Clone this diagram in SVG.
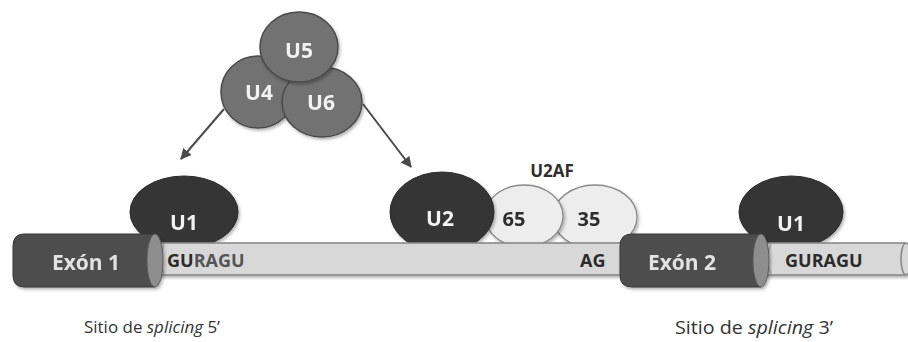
<svg xmlns="http://www.w3.org/2000/svg" width="908" height="342" viewBox="0 0 908 342">
  <defs>
    <filter id="shadow" x="-20%" y="-20%" width="140%" height="150%">
      <feDropShadow dx="1.5" dy="2" stdDeviation="1.8" flood-color="#000" flood-opacity="0.3"/>
    </filter>
    <marker id="arrow" viewBox="0 0 10 10" refX="9" refY="5" markerWidth="5.5" markerHeight="5.5" orient="auto" markerUnits="strokeWidth">
      <path d="M0,0 L10,5 L0,10 Z" fill="#4a4a4a"/>
    </marker>
    <style>
      .lbl { font-family: "Open Sans", "Liberation Sans", sans-serif; font-weight: 700; text-anchor: middle; }
      .white { fill: #f2f2f2; font-size: 21px; }
      .exon { fill: #e2e2e2; font-size: 21px; }
      .dark { fill: #2e2e2e; font-size: 20px; }
      .seq { fill: #2b2b2b; font-size: 18px; text-anchor: start; }
      .seqlight { fill: #555555; }
      .snrnp-mid { fill: #727272; stroke: #4a4a4a; stroke-width: 1.5; }
      .snrnp-dark { fill: #363636; stroke: #2a2a2a; stroke-width: 1; }
      .u2af { fill: #ededed; stroke: #8a8a8a; stroke-width: 1.3; }
      .exonbody { fill: #4d4d4d; stroke: #3a3a3a; stroke-width: 1; }
      .cap { fill: #8e8e8e; stroke: #5a5a5a; stroke-width: 1; }
      .rna { fill: #d8d8d8; stroke: #8a8a8a; stroke-width: 1.6; }
      .conn { stroke: #4a4a4a; stroke-width: 2; fill: none; marker-end: url(#arrow); }
      .site { font-family: "Open Sans", "Liberation Sans", sans-serif; fill: #333333; }
    </style>
  </defs>

  <rect width="908" height="342" fill="#ffffff"/>

  <!-- U4/U5/U6 cluster -->
  <g id="U4" filter="url(#shadow)">
    <ellipse class="snrnp-mid" cx="258" cy="92" rx="37" ry="36"/>
    <text class="lbl white" x="259" y="100">U4</text>
  </g>
  <g id="U6" filter="url(#shadow)">
    <ellipse class="snrnp-mid" cx="322" cy="102" rx="40" ry="35"/>
    <text class="lbl white" x="321" y="110">U6</text>
  </g>
  <g id="U5" filter="url(#shadow)">
    <ellipse class="snrnp-mid" cx="299" cy="47" rx="39" ry="35"/>
    <text class="lbl white" x="299" y="58">U5</text>
  </g>

  <!-- connectors -->
  <g id="connectors">
    <line class="conn" x1="224" y1="109" x2="181" y2="159"/>
    <line class="conn" x1="363" y1="104" x2="411" y2="167"/>
  </g>

  <!-- particles sitting behind the RNA strand -->
  <g id="U1-left" filter="url(#shadow)">
    <ellipse class="snrnp-dark" cx="184" cy="212" rx="54" ry="36"/>
    <text class="lbl white" x="184" y="230">U1</text>
  </g>
  <g id="U2AF35" filter="url(#shadow)">
    <ellipse class="u2af" cx="595" cy="217" rx="42" ry="32"/>
    <text class="lbl dark" x="589" y="226">35</text>
  </g>
  <g id="U2AF65" filter="url(#shadow)">
    <ellipse class="u2af" cx="524" cy="216" rx="39" ry="31"/>
    <text class="lbl dark" x="514" y="226">65</text>
  </g>
  <g id="U2" filter="url(#shadow)">
    <ellipse class="snrnp-dark" cx="442" cy="212" rx="52" ry="40"/>
    <text class="lbl white" x="440" y="226">U2</text>
  </g>
  <g id="U2AF-label">
    <text class="lbl dark" style="font-size:17px" x="552" y="177">U2AF</text>
  </g>
  <g id="U1-right" filter="url(#shadow)">
    <ellipse class="snrnp-dark" cx="791" cy="212" rx="52" ry="36"/>
    <text class="lbl white" x="791" y="231">U1</text>
  </g>

  <!-- intron / RNA strand -->
  <g id="intron" filter="url(#shadow)">
    <rect class="rna" x="158" y="243" width="747" height="32"/>
    <ellipse class="rna" cx="906" cy="259" rx="5" ry="16"/>
    <path d="M164,244 Q158,259 164,274" fill="none" stroke="#b0b0b0" stroke-width="1.5"/>
    <path d="M771,244 Q765,259 771,274" fill="none" stroke="#b0b0b0" stroke-width="1.5"/>
  </g>

  <!-- exons -->
  <g id="exon1" filter="url(#shadow)">
    <path class="exonbody" d="M155,234 L24,234 Q13,234 13,246 L13,275 Q13,287 24,287 L155,287 Z"/>
    <ellipse class="cap" cx="155" cy="260.5" rx="8" ry="26.5"/>
    <text class="lbl exon" x="86" y="270">Exón 1</text>
  </g>
  <g id="exon2" filter="url(#shadow)">
    <path class="exonbody" d="M761,234 L632,234 Q620,234 620,246 L620,275 Q620,287 632,287 L761,287 Z"/>
    <ellipse class="cap" cx="761" cy="260.5" rx="8" ry="26.5"/>
    <text class="lbl exon" x="682" y="270">Exón 2</text>
  </g>

  <!-- sequence labels -->
  <g id="seq-5">
    <text class="lbl seq" x="167" y="267">GU<tspan class="seqlight">RAGU</tspan></text>
  </g>
  <g id="seq-AG">
    <text class="lbl seq" x="580" y="267">AG</text>
  </g>
  <g id="seq-5b">
    <text class="lbl seq" x="785" y="267">GURAGU</text>
  </g>

  <!-- site captions -->
  <g id="caption-5">
    <text class="site" font-size="16" x="84" y="333" textLength="136" lengthAdjust="spacingAndGlyphs">Sitio de <tspan font-style="italic">splicing</tspan> 5’</text>
  </g>
  <g id="caption-3">
    <text class="site" font-size="18" x="675" y="334" textLength="158" lengthAdjust="spacingAndGlyphs">Sitio de <tspan font-style="italic">splicing</tspan> 3’</text>
  </g>
</svg>
